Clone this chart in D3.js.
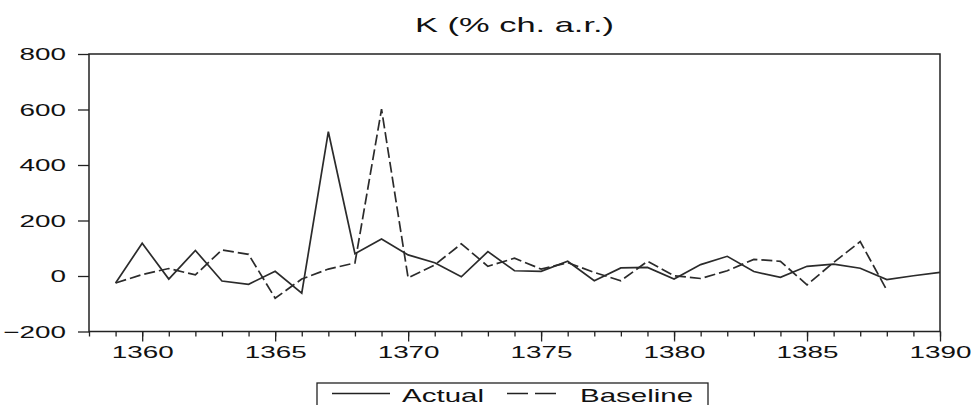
<!DOCTYPE html>
<html>
<head>
    <meta charset="utf-8">
    <style>
        body {
            margin: 0;
            background: white;
        }
        svg {
            display: block;
            font-family: "Liberation Sans", Arial, sans-serif;
        }
    </style>
</head>
<body>
    <svg width="975" height="405"></svg>

<script src="https://d3js.org/d3.v7.min.js"></script>
<script>
    // chart data
    let years = [1359, 1360, 1361, 1362, 1363, 1364, 1365, 1366, 1367, 1368,
                 1369, 1370, 1371, 1372, 1373, 1374, 1375, 1376, 1377, 1378,
                 1379, 1380, 1381, 1382, 1383, 1384, 1385, 1386, 1387, 1388,
                 1389, 1390]
    let actual = [-25, 118, -11, 92, -18, -30, 17, -62, 520, 80,
                  133, 76, 48, -3, 88, 19, 17, 53, -17, 29,
                  31, -11, 41, 71, 16, -5, 35, 43, 28, -13,
                  1, 13]
    let baseline = [-25, 5, 27, 4, 94, 78, -80, -11, 25, 47,
                    601, -7, 40, 116, 35, 64, 25, 48, 13, -17,
                    53, 1, -9, 19, 60, 53, -32, 49, 124, -51]
    let yTicks = [-200, 0, 200, 400, 600, 800]
    let xLabels = [1360, 1365, 1370, 1375, 1380, 1385, 1390]
    let xMinor = d3.range(1358, 1391)
    let title = "K (% ch. a.r.)"
    let seriesNames = ["Actual", "Baseline"]

    let plotLeft = 89, plotRight = 940, plotTop = 54, plotBottom = 331.5
    let stretch = 1.64 // the text in the picture is drawn wide

    let svg = d3.select("svg")

    let x = d3.scaleLinear().domain([1358, 1390]).range([plotLeft, plotRight])
    let y = d3.scaleLinear().domain([-200, 800]).range([plotBottom, plotTop])

    // frame
    svg.append("rect")
        .attr("x", plotLeft)
        .attr("y", plotTop)
        .attr("width", plotRight - plotLeft)
        .attr("height", plotBottom - plotTop)
        .attr("fill", "none")
        .attr("stroke", "#222")
        .attr("stroke-width", 1.5)

    // y axis
    let yAxis = svg.append("g")
        .attr("transform", `translate(${plotLeft},0)`)
        .call(d3.axisLeft(y).tickValues(yTicks).tickSize(11).tickSizeOuter(0))
    yAxis.select(".domain").remove()
    yAxis.selectAll(".tick line").attr("stroke", "#222").attr("stroke-width", 1.3)
    yAxis.selectAll(".tick text")
        .attr("x", -23 / stretch)
        .attr("dy", "0.35em")
        .attr("transform", `scale(${stretch},1)`)
        .style("font-size", "17px")
        .attr("fill", "#111")

    // x axis, minor ticks every year
    let xMinorAxis = svg.append("g")
        .attr("transform", `translate(0,${plotBottom})`)
        .call(d3.axisBottom(x).tickValues(xMinor).tickSize(5).tickFormat(""))
    xMinorAxis.select(".domain").remove()
    xMinorAxis.selectAll(".tick line").attr("stroke", "#222").attr("stroke-width", 1.3)

    let xAxis = svg.append("g")
        .attr("transform", `translate(0,${plotBottom})`)
        .call(d3.axisBottom(x).tickValues(xLabels).tickSize(10).tickPadding(4).tickFormat(d3.format("d")))
    xAxis.select(".domain").remove()
    xAxis.selectAll(".tick line").attr("stroke", "#222").attr("stroke-width", 1.3)
    xAxis.selectAll(".tick text")
        .attr("y", 26.5)
        .attr("dy", null)
        .style("font-size", "17px")
        .attr("fill", "#111")
    // the tick group carries the x position, so scale the text around it
    xAxis.selectAll(".tick text")
        .attr("transform", `scale(${stretch},1)`)

    // lines
    let line = d3.line()
        .x((d, i) => x(years[i]))
        .y(d => y(d))

    svg.append("path")
        .datum(actual)
        .attr("d", line)
        .attr("fill", "none")
        .attr("stroke", "#2b2b2b")
        .attr("stroke-width", 1.7)

    svg.append("path")
        .datum(baseline)
        .attr("d", line)
        .attr("fill", "none")
        .attr("stroke", "#2b2b2b")
        .attr("stroke-width", 1.7)
        .attr("stroke-dasharray", "11,4")

    // title
    svg.append("text")
        .attr("transform", `translate(${(plotLeft + plotRight) / 2},32) scale(${stretch},1)`)
        .attr("text-anchor", "middle")
        .style("font-size", "21px")
        .attr("fill", "#111")
        .text(title)

    // legend, its box runs off the bottom edge as in the picture
    let legend = svg.append("g")
    legend.append("rect")
        .attr("x", 317)
        .attr("y", 383)
        .attr("width", 391)
        .attr("height", 40)
        .attr("fill", "white")
        .attr("stroke", "#222")
        .attr("stroke-width", 1.3)

    legend.append("line")
        .attr("x1", 332).attr("x2", 390)
        .attr("y1", 393.5).attr("y2", 393.5)
        .attr("stroke", "#222")
        .attr("stroke-width", 1.5)
    legend.append("line")
        .attr("x1", 507).attr("x2", 557)
        .attr("y1", 393.5).attr("y2", 393.5)
        .attr("stroke", "#222")
        .attr("stroke-width", 1.5)
        .attr("stroke-dasharray", "21,7")

    legend.append("text")
        .attr("transform", `translate(402,402) scale(${stretch},1)`)
        .style("font-size", "18px")
        .attr("fill", "#111")
        .text(seriesNames[0])
    legend.append("text")
        .attr("transform", `translate(580,402) scale(${stretch},1)`)
        .style("font-size", "18px")
        .attr("fill", "#111")
        .text(seriesNames[1])
</script>
</body>
</html>
